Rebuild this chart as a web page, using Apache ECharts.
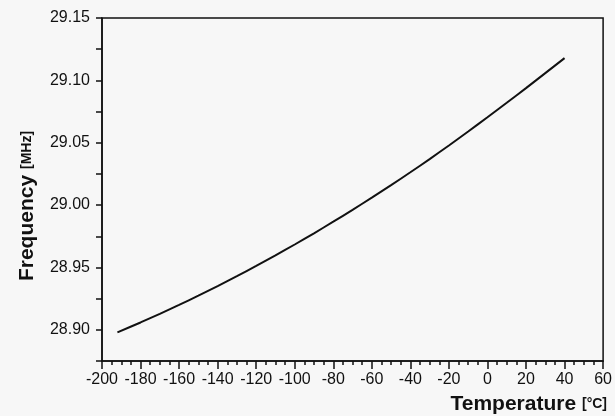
<!DOCTYPE html>
<html>
<head>
<meta charset="utf-8">
<script src="https://cdn.jsdelivr.net/npm/echarts@6/dist/echarts.min.js"></script>
<style>
html,body{margin:0;padding:0;background:#f7f7f7;}
#c{width:615px;height:416px;}
</style>
</head>
<body>
<div id="c"></div>
<script>
// Temperature (°C)
var temperatures = [-192, -180, -170, -160, -150, -140, -130, -120, -110, -100, -90, -80, -70, -60, -50, -40, -30, -20, -10, 0, 10, 20, 30, 40];
// Frequency (MHz)
var frequencies = [28.8980, 28.9059, 28.9128, 28.9200, 28.9274, 28.9351, 28.9430, 28.9512, 28.9597, 28.9684, 28.9774, 28.9867, 28.9962, 29.0060, 29.0160, 29.0263, 29.0369, 29.0478, 29.0590, 29.0704, 29.0820, 29.0938, 29.1058, 29.1178];
var xTitle = 'Temperature';
var xUnit = '[°C]';
var yTitle = 'Frequency';
var yUnit = '[MHz]';

var chart = echarts.init(document.getElementById('c'));
var pts = temperatures.map(function (t, i) { return [t, frequencies[i]]; });
var font = 'Liberation Sans, Arial, sans-serif';
var ink = '#111';

chart.setOption({
  backgroundColor: '#f7f7f7',
  animation: false,
  grid: {
    left: 102, right: 10, top: 18, bottom: 55,
    show: true, borderColor: ink, borderWidth: 1.5, backgroundColor: 'transparent'
  },
  xAxis: [{
    type: 'value', min: -200, max: 60, interval: 20, position: 'bottom',
    axisLine: { show: true, onZero: false, lineStyle: { color: ink, width: 1.5 } },
    axisTick: { show: true, length: 8, lineStyle: { color: ink, width: 1.5 } },
    splitLine: { show: false },
    axisLabel: { color: ink, fontSize: 16, fontFamily: font, margin: 11 }
  }, {
    type: 'value', min: -200, max: 60, interval: 5, position: 'bottom', offset: 0,
    axisLine: { show: false, onZero: false },
    axisTick: { show: true, length: 4, lineStyle: { color: ink, width: 1.5 } },
    splitLine: { show: false },
    axisLabel: { show: false }
  }],
  yAxis: {
    type: 'value', min: 28.875, max: 29.15, interval: 0.025,
    axisLine: { show: true, onZero: false, lineStyle: { color: ink, width: 1.5 } },
    axisTick: { show: true, length: 6, lineStyle: { color: ink, width: 1.5 } },
    splitLine: { show: false },
    axisLabel: {
      color: ink, fontSize: 16, fontFamily: font, margin: 12,
      formatter: function (v) {
        return Math.round(v * 1000) % 50 === 0 ? v.toFixed(2) : '';
      }
    }
  },
  series: [{
    type: 'line', data: pts, smooth: 0.3, showSymbol: false,
    xAxisIndex: 0,
    lineStyle: { color: ink, width: 2 }
  }],
  graphic: [
    {
      type: 'text', x: 607, y: 404,
      style: {
        text: xTitle + ' {s|' + xUnit + '}',
        align: 'right', verticalAlign: 'middle',
        font: 'bold 21px ' + font, fill: ink,
        rich: { s: { font: 'bold 14px ' + font, fill: ink } }
      }
    },
    {
      type: 'text', x: 27, y: 206, rotation: Math.PI / 2,
      style: {
        text: yTitle + ' {s|' + yUnit + '}',
        align: 'center', verticalAlign: 'middle',
        font: 'bold 21px ' + font, fill: ink,
        rich: { s: { font: 'bold 14px ' + font, fill: ink } }
      }
    }
  ]
});
</script>
</body>
</html>
